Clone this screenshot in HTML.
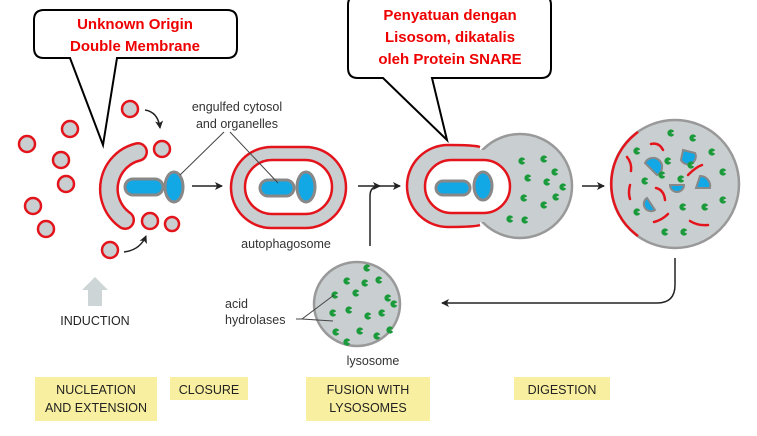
<!DOCTYPE html>
<html><head><meta charset="utf-8"><style>
html,body{margin:0;padding:0;background:#fff;width:757px;height:436px;overflow:hidden}
svg{display:block}
text{font-family:"Liberation Sans",sans-serif}
.lbl{font-size:12.5px;fill:#333}
.cap{font-size:12.5px;fill:#222}
.red{font-size:15px;fill:#e00;font-weight:bold}
</style></head><body>
<svg width="757" height="436" viewBox="0 0 757 436">
<defs>
<marker id="ah" markerWidth="8" markerHeight="8" refX="7" refY="4" orient="auto" markerUnits="userSpaceOnUse"><path d="M0,0 L8,4 L0,8 L2,4z" fill="#222"/></marker>
<g id="g"><path d="M0,0 L3.2,-1.6 A3.6,3.6 0 1 0 3.2,1.6 Z" fill="#1a9a3a"/></g>
</defs>
<!-- yellow labels -->
<rect x="35" y="377" width="122" height="44" fill="#f8f0a0"/>
<rect x="170" y="377" width="78" height="23" fill="#f8f0a0"/>
<rect x="306" y="377" width="124" height="44" fill="#f8f0a0"/>
<rect x="514" y="377" width="96" height="23" fill="#f8f0a0"/>
<text class="cap" x="96" y="394" text-anchor="middle">NUCLEATION</text>
<text class="cap" x="96" y="412" text-anchor="middle">AND EXTENSION</text>
<text class="cap" x="209" y="394" text-anchor="middle">CLOSURE</text>
<text class="cap" x="368" y="394" text-anchor="middle">FUSION WITH</text>
<text class="cap" x="368" y="412" text-anchor="middle">LYSOSOMES</text>
<text class="cap" x="562" y="394" text-anchor="middle">DIGESTION</text>

<!-- callout 1 -->
<path d="M44,10 H227 Q237,10 237,20 V48 Q237,58 227,58 H117 L103,145 L70,58 H44 Q34,58 34,48 V20 Q34,10 44,10z" fill="#fff" stroke="#000" stroke-width="2"/>
<text class="red" x="135" y="29" text-anchor="middle">Unknown Origin</text>
<text class="red" x="135" y="51" text-anchor="middle">Double Membrane</text>
<!-- callout 2 -->
<path d="M358,-5 H541 Q551,-5 551,5 V68 Q551,78 541,78 H432 L447,140 L383,78 H358 Q348,78 348,68 V5 Q348,-5 358,-5z" fill="#fff" stroke="#000" stroke-width="2"/>
<text class="red" x="450" y="20" text-anchor="middle">Penyatuan dengan</text>
<text class="red" x="450" y="42" text-anchor="middle">Lisosom, dikatalis</text>
<text class="red" x="450" y="64" text-anchor="middle">oleh Protein SNARE</text>

<!-- small vesicles -->
<g fill="#c9cfd0" stroke="#e3141c" stroke-width="2.5">
<circle cx="130" cy="109" r="8"/><circle cx="70" cy="129" r="8"/><circle cx="27" cy="144" r="8"/>
<circle cx="162" cy="149" r="8"/><circle cx="61" cy="160" r="8"/><circle cx="66" cy="184" r="8"/>
<circle cx="33" cy="206" r="8"/><circle cx="46" cy="229" r="8"/><circle cx="150" cy="221" r="8"/>
<circle cx="172" cy="224" r="7"/><circle cx="110" cy="250" r="8"/>
</g>
<path d="M145,110 Q158,112 160,128" fill="none" stroke="#222" stroke-width="1.5" marker-end="url(#ah)"/>
<path d="M124,252 Q140,250 146,236" fill="none" stroke="#222" stroke-width="1.5" marker-end="url(#ah)"/>
<!-- phagophore C -->
<path d="M138,152 A38,38 0 0 0 125,220" fill="none" stroke="#e3141c" stroke-width="20" stroke-linecap="round"/>
<path d="M138,152 A38,38 0 0 0 125,220" fill="none" stroke="#c9cfd0" stroke-width="15" stroke-linecap="round"/>
<!-- organelles -->
<rect x="125" y="179" width="38" height="16" rx="8" fill="#12a8e6" stroke="#888" stroke-width="3"/>
<ellipse cx="174" cy="187" rx="9" ry="15" fill="#12a8e6" stroke="#888" stroke-width="3"/>
<line x1="180" y1="175" x2="224" y2="132" stroke="#444" stroke-width="1"/>
<text class="lbl" x="237" y="111" text-anchor="middle">engulfed cytosol</text>
<text class="lbl" x="237" y="128" text-anchor="middle">and organelles</text>
<line x1="192" y1="186" x2="222" y2="186" stroke="#222" stroke-width="1.5" marker-end="url(#ah)"/>

<!-- autophagosome -->
<rect x="231" y="147" width="115" height="81" rx="40.5" fill="#c9cfd0" stroke="#e3141c" stroke-width="2.5"/>
<rect x="245" y="160" width="87" height="54" rx="27" fill="#fff" stroke="#e3141c" stroke-width="2.5"/>
<rect x="260" y="180" width="34" height="16" rx="8" fill="#12a8e6" stroke="#888" stroke-width="3"/>
<ellipse cx="306" cy="187" rx="9" ry="15" fill="#12a8e6" stroke="#888" stroke-width="3"/>
<line x1="278" y1="183" x2="230" y2="132" stroke="#444" stroke-width="1"/>
<text class="lbl" x="286" y="248" text-anchor="middle">autophagosome</text>

<!-- fusion arrow -->
<path d="M358,186 H400" fill="none" stroke="#222" stroke-width="1.5" marker-end="url(#ah)"/>
<path d="M370,246 V196 Q370,186 380,186" fill="none" stroke="#222" stroke-width="1.5" marker-end="url(#ah)"/>

<!-- fused -->
<circle cx="520" cy="186" r="52" fill="#c9cfd0" stroke="#999" stroke-width="2.5"/>
<path d="M480,147 Q475,145 448,145 A41,41 0 0 0 448,227 Q475,227 480,225" fill="#c9cfd0" stroke="#e3141c" stroke-width="2.5"/>
<rect x="470" y="150" width="14" height="72" fill="#c9cfd0"/>
<rect x="425" y="160" width="85" height="53" rx="26.5" fill="#fff" stroke="#e3141c" stroke-width="2.5"/>
<rect x="436" y="181" width="34" height="14" rx="7" fill="#12a8e6" stroke="#888" stroke-width="3"/>
<ellipse cx="483" cy="186" rx="9" ry="14" fill="#12a8e6" stroke="#888" stroke-width="3"/>
<g>
<use href="#g" x="522" y="161"/><use href="#g" x="544" y="159"/><use href="#g" x="528" y="178"/><use href="#g" x="547" y="182"/>
<use href="#g" x="555" y="172"/><use href="#g" x="524" y="198"/><use href="#g" x="544" y="205"/><use href="#g" x="556" y="197"/>
<use href="#g" x="510" y="219"/><use href="#g" x="525" y="220"/><use href="#g" x="563" y="187"/>
</g>
<line x1="582" y1="186" x2="604" y2="186" stroke="#222" stroke-width="1.5" marker-end="url(#ah)"/>

<!-- digestion -->
<circle cx="675" cy="184" r="64" fill="#c9cfd0" stroke="#999" stroke-width="2.5"/>
<path d="M638,132 A64,64 0 0 0 638,236" fill="none" stroke="#e3141c" stroke-width="2.5"/>
<g fill="#12a8e6" stroke="#888" stroke-width="2">
<path d="M645,163 a9,9 0 1 1 12,12 z"/><path d="M683,150 l12,3 a6,6 0 0 1 -14,7z"/>
<path d="M700,176 a10,10 0 0 1 10,12 l-14,0z"/><path d="M670,185 l14,0 a7,7 0 0 1 -14,0z"/>
<path d="M647,198 l8,12 a6,6 0 0 1 -8,-12z"/>
</g>
<g fill="none" stroke="#e3141c" stroke-width="2.5" stroke-linecap="round">
<path d="M651,144 Q659,142 663,150"/><path d="M627,157 Q632,163 631,171"/><path d="M630,185 Q628,193 630,199"/>
<path d="M688,175 Q696,167 702,165"/><path d="M656,188 Q664,190 665,200"/><path d="M654,222 Q662,220 668,214"/>
<path d="M690,221 Q698,226 708,225"/>
</g>
<g>
<use href="#g" x="671" y="133"/><use href="#g" x="693" y="138"/><use href="#g" x="637" y="151"/><use href="#g" x="712" y="152"/>
<use href="#g" x="668" y="161"/><use href="#g" x="691" y="165"/><use href="#g" x="723" y="172"/><use href="#g" x="645" y="181"/>
<use href="#g" x="662" y="175"/><use href="#g" x="681" y="179"/><use href="#g" x="723" y="200"/><use href="#g" x="637" y="212"/>
<use href="#g" x="683" y="207"/><use href="#g" x="705" y="207"/><use href="#g" x="665" y="232"/><use href="#g" x="684" y="232"/>
</g>
<path d="M675,258 V285 Q675,303 657,303 H442" fill="none" stroke="#222" stroke-width="1.5" marker-end="url(#ah)"/>

<!-- lysosome -->
<ellipse cx="357" cy="304" rx="43" ry="42" fill="#c9cfd0" stroke="#999" stroke-width="2.5"/>
<g>
<use href="#g" x="367" y="268"/><use href="#g" x="347" y="281"/><use href="#g" x="365" y="283"/><use href="#g" x="379" y="280"/>
<use href="#g" x="335" y="295"/><use href="#g" x="356" y="293"/><use href="#g" x="388" y="298"/><use href="#g" x="333" y="313"/>
<use href="#g" x="349" y="310"/><use href="#g" x="368" y="316"/><use href="#g" x="382" y="313"/><use href="#g" x="394" y="304"/>
<use href="#g" x="360" y="331"/><use href="#g" x="377" y="336"/><use href="#g" x="390" y="330"/><use href="#g" x="336" y="332"/>
<use href="#g" x="347" y="342"/>
</g>
<path d="M296,319 L302,319 L334,295 M302,319 L333,321" fill="none" stroke="#444" stroke-width="1"/>
<text class="lbl" x="225" y="308">acid</text>
<text class="lbl" x="225" y="324">hydrolases</text>
<text class="lbl" x="373" y="365" text-anchor="middle">lysosome</text>

<!-- induction -->
<path d="M88,306 V290 H82 L95,277 L108,290 H102 V306z" fill="#cdd5d6"/>
<text class="cap" x="95" y="325" text-anchor="middle">INDUCTION</text>
</svg>
</body></html>
